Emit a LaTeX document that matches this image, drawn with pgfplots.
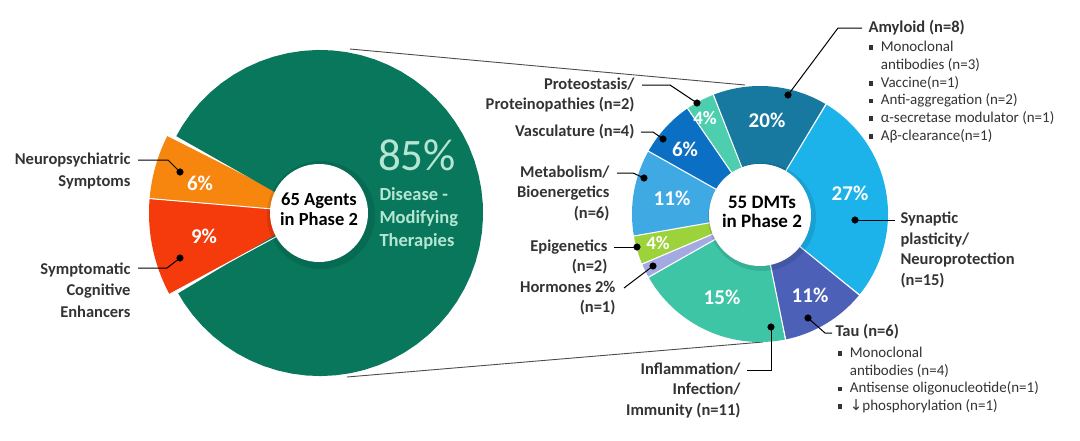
\documentclass[border=0pt]{standalone}
\usepackage{pgfplots}
\usepackage{pgfplotstable}
\pgfplotsset{compat=1.18}
\usepackage{fontspec}
\setmainfont{Carlito}
\newfontfamily\symfont{DejaVu Sans}

% slice colours
\definecolor{cDMT}{HTML}{08775C}
\definecolor{cNeu}{HTML}{F7860F}
\definecolor{cSym}{HTML}{F53A0B}
\definecolor{cMint}{HTML}{B5E6D3}
\definecolor{cAmy}{HTML}{17799F}
\definecolor{cSyn}{HTML}{1BB3EA}
\definecolor{cTau}{HTML}{4B60B6}
\definecolor{cInf}{HTML}{3DC5A6}
\definecolor{cHor}{HTML}{A4A9E2}
\definecolor{cEpi}{HTML}{9CD23A}
\definecolor{cMet}{HTML}{3FA9E4}
\definecolor{cVas}{HTML}{0B6FC3}
\definecolor{cPro}{HTML}{4DCFAF}
\definecolor{cTxt}{HTML}{333333}

% 65 agents in phase 2 (counts)
\pgfplotstableread{
name   n  col   R
Neuro  4  cNeu  171
Sympt  6  cSym  171
DMT    55 cDMT  163
}\phase

% 55 DMTs in phase 2 (counts), clockwise from the top right
\pgfplotstableread{
name      n  col
Synaptic  15 cSyn
Tau       6  cTau
Inflam    11 cInf
Hormones  1  cHor
Epigen    2  cEpi
Metab     6  cMet
Vasc      4  cVas
Proteo    2  cPro
Amyloid   8  cAmy
}\dmts

\newcommand{\lab}{\fontsize{16.5}{20.5}\selectfont\bfseries\color{cTxt}}
\newcommand{\pct}{\fontsize{21}{24}\selectfont\bfseries\color{white}}
\newcommand{\sub}{\fontsize{15}{17.8}\selectfont\color{cTxt}}
\newcommand{\bul}{\rule[0.2ex]{0.32em}{0.32em}\hspace{0.5em}}

\begin{document}
\begin{tikzpicture}
\path[use as bounding box] (0,0) rectangle (1080pt,440pt);
\begin{axis}[
    scale only axis, width=1080pt, height=440pt,
    xmin=0, xmax=1080, ymin=0, ymax=440, y dir=reverse,
    enlargelimits=false, hide axis, clip=false,
]
% zoom lines
\addplot[gray!60!black, line width=0.9pt] coordinates {(350,49) (745,85)};
\addplot[gray!60!black, line width=0.9pt] coordinates {(347,377) (763,342)};

% left pie: counter-clockwise from 153 degrees
\pgfplotstablegetrowsof{\phase}
\pgfmathtruncatemacro{\lastL}{\pgfplotsretval-1}
\gdef\acc{0}
\foreach \i in {0,...,\lastL}{
  \pgfplotstablegetelem{\i}{n}\of{\phase}\let\nn\pgfplotsretval
  \pgfplotstablegetelem{\i}{col}\of{\phase}\let\cl\pgfplotsretval
  \pgfplotstablegetelem{\i}{R}\of{\phase}\let\rr\pgfplotsretval
  \pgfmathsetmacro{\abeg}{153+\acc*(360/65)}
  \pgfmathsetmacro{\aend}{153+(\acc+\nn)*(360/65)}
  \pgfmathsetmacro{\newacc}{\acc+\nn}\xdef\acc{\newacc}
  \pgfmathsetmacro{\rmid}{(\rr+20)/2}
  \pgfmathsetmacro{\rw}{\rr-20}
  \edef\doit{\noexpand\addplot[draw=\cl, line width=\rw pt, domain=\abeg:\aend, samples=60]
    ({320+\rmid*cos(x)},{213-\rmid*sin(x)});
    \noexpand\addplot[white, line width=1pt, domain=30:171, samples=2]
    ({320+x*cos(\abeg)},{213-x*sin(\abeg)});}
  \doit
}

% right donut: clockwise from 59 degrees
\pgfplotstablegetrowsof{\dmts}
\pgfmathtruncatemacro{\lastR}{\pgfplotsretval-1}
\gdef\acc{0}
\foreach \i in {0,...,\lastR}{
  \pgfplotstablegetelem{\i}{n}\of{\dmts}\let\nn\pgfplotsretval
  \pgfplotstablegetelem{\i}{col}\of{\dmts}\let\cl\pgfplotsretval
  \pgfmathsetmacro{\abeg}{59-(\acc+\nn)*(360/55)}
  \pgfmathsetmacro{\aend}{59-\acc*(360/55)}
  \pgfmathsetmacro{\newacc}{\acc+\nn}\xdef\acc{\newacc}
  \edef\doit{\noexpand\addplot[draw=\cl, line width=78pt, domain=\abeg:\aend, samples=40]
    ({760+89*cos(x)},{214-89*sin(x)});}
  \doit
}
\gdef\acc{0}
\foreach \i in {0,...,\lastR}{
  \pgfplotstablegetelem{\i}{n}\of{\dmts}\let\nn\pgfplotsretval
  \pgfmathsetmacro{\aend}{59-\acc*(360/55)}
  \pgfmathsetmacro{\newacc}{\acc+\nn}\xdef\acc{\newacc}
  \edef\doit{\noexpand\addplot[white, line width=1.1pt, domain=48:129, samples=2]
    ({760+x*cos(\aend)},{214-x*sin(\aend)});}
  \doit
}

% centre discs with a soft shadow
\addplot[fill=black, draw=none, opacity=0.1, domain=0:360, samples=73]
  ({321+54*cos(x)},{215-54*sin(x)});
\addplot[fill=black, draw=none, opacity=0.1, domain=0:360, samples=73]
  ({762+54*cos(x)},{217-54*sin(x)});
\addplot[fill=white, draw=none, domain=0:360, samples=73]
  ({319+49*cos(x)},{213-49*sin(x)});
\addplot[fill=white, draw=none, domain=0:360, samples=73]
  ({760+51*cos(x)},{215-51*sin(x)});

% leader lines
\addplot[black, line width=1pt] coordinates {(138,160) (168,160) (180,172)};
\addplot[black, line width=1pt] coordinates {(138,268) (167,268) (180,258)};
\addplot[black, line width=1pt] coordinates {(788,95) (838,28) (862,28)};
\addplot[black, line width=1pt] coordinates {(855,220) (895,220)};
\addplot[black, line width=1pt] coordinates {(808,318) (825,333) (832,333)};
\addplot[black, line width=1pt] coordinates {(771,327) (771,370) (747,370)};
\addplot[black, line width=1pt] coordinates {(642,85) (670,85) (697,103)};
\addplot[black, line width=1pt] coordinates {(641,132) (653,132) (663,139)};
\addplot[black, line width=1pt] coordinates {(617,173) (633,173) (644,178)};
\addplot[black, line width=1pt] coordinates {(614,247) (637,247)};
\addplot[black, line width=1pt] coordinates {(624,288) (653,266)};
\addplot[only marks, mark=*, mark size=3.3pt, black] coordinates {
  (180,172) (180,258) (788,95) (855,220) (808,318) (771,327)
  (697,103) (663,139) (644,178) (637,247) (653,266)};

% left pie texts
\node[anchor=east, align=right, font=\fontsize{16.5}{21.7}\selectfont\bfseries\color{cTxt}]
  at (axis cs:134,171) {Neuropsychiatric\\Symptoms};
\node[anchor=east, align=right, font=\fontsize{16.5}{21.7}\selectfont\bfseries\color{cTxt}]
  at (axis cs:134,290) {Symptomatic\\Cognitive\\Enhancers};
\node[font=\pct] at (axis cs:200,183) {6\%};
\node[font=\pct] at (axis cs:204,236) {9\%};
\node[font=\fontsize{45}{50}\selectfont\color{cMint}] at (axis cs:417,155) {85\%};
\node[anchor=west, align=left, font=\fontsize{18.5}{23}\selectfont\bfseries\color{cMint}]
  at (axis cs:376,218) {Disease -\\Modifying\\Therapies};
\node[align=center, font=\fontsize{18.5}{20}\selectfont\bfseries]
  at (axis cs:319,209) {65 Agents\\in Phase 2};

% right donut texts
\node[font=\pct] at (axis cs:767,120) {20\%};
\node[font=\fontsize{19}{22}\selectfont\bfseries\color{white}] at (axis cs:705,118) {4\%};
\node[font=\pct] at (axis cs:685,149) {6\%};
\node[font=\pct] at (axis cs:850,193) {27\%};
\node[font=\pct] at (axis cs:672,198) {11\%};
\node[font=\fontsize{19}{22}\selectfont\bfseries\color{white}] at (axis cs:658,243) {4\%};
\node[font=\pct] at (axis cs:722,297) {15\%};
\node[font=\pct] at (axis cs:810,295) {11\%};
\node[align=center, font=\fontsize{19}{19.5}\selectfont\bfseries]
  at (axis cs:762,212) {55 DMTs\\in Phase 2};

\node[anchor=east, align=right, font=\lab] at (axis cs:638,95) {Proteostasis/\\Proteinopathies (n=2)};
\node[anchor=east, align=right, font=\lab] at (axis cs:638,132) {Vasculature (n=4)};
\node[anchor=east, align=right, font=\lab] at (axis cs:613,193) {Metabolism/\\Bioenergetics\\(n=6)};
\node[anchor=east, align=right, font=\lab] at (axis cs:611,257) {Epigenetics\\(n=2)};
\node[anchor=east, align=right, font=\lab] at (axis cs:619,298) {Hormones 2\%\\(n=1)};
\node[anchor=east, align=right, font=\lab] at (axis cs:744,390) {Inflammation/\\Infection/\\Immunity (n=11)};
\node[anchor=west, align=left, font=\lab] at (axis cs:897,250) {Synaptic\\plasticity/\\Neuroprotection\\(n=15)};
\node[anchor=west, font=\lab] at (axis cs:832,332) {Tau (n=6)};
\node[anchor=west, align=left, font=\sub] at (axis cs:834,380)
  {\bul Monoclonal\\\hphantom{\bul}antibodies (n=4)\\\bul Antisense oligonucleotide(n=1)\\\bul{\symfont ↓}phosphorylation (n=1)};
\node[anchor=west, font=\lab] at (axis cs:865,28) {Amyloid (n=8)};
\node[anchor=west, align=left, font=\sub] at (axis cs:865,92)
  {\bul Monoclonal\\\hphantom{\bul}antibodies (n=3)\\\bul Vaccine(n=1)\\\bul Anti-aggregation (n=2)\\\bul α-secretase modulator (n=1)\\\bul Aβ-clearance(n=1)};
\end{axis}
\end{tikzpicture}
\end{document}
